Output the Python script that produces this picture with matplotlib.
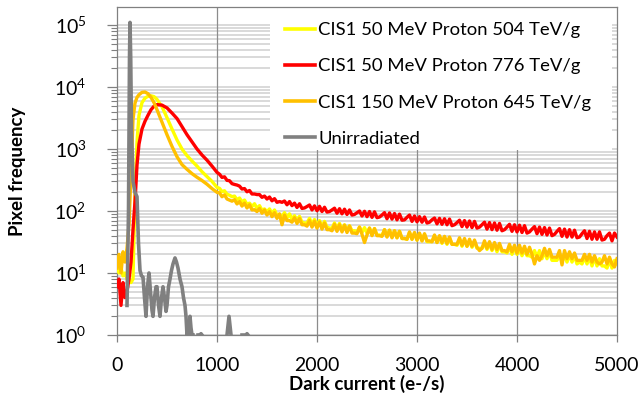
import numpy as np
import matplotlib
matplotlib.use("Agg")
import matplotlib.pyplot as plt
from matplotlib.ticker import LogLocator, FixedLocator, NullFormatter
from matplotlib.patches import Rectangle

plt.rcParams['font.family'] = ['Lato', 'DejaVu Sans']
plt.rcParams['mathtext.fontset'] = 'custom'
plt.rcParams['mathtext.rm'] = 'Lato'
plt.rcParams['mathtext.it'] = 'Lato'
plt.rcParams['mathtext.bf'] = 'Lato:bold'

# ---------------- data ----------------
labels = ["CIS1 50 MeV Proton 504 TeV/g", "CIS1 50 MeV Proton 776 TeV/g",
          "CIS1 150 MeV Proton 645 TeV/g", "Unirradiated"]
colors = ["#FFFF00", "#FF0000", "#FFC000", "#808080"]
x_ticks = [0, 1000, 2000, 3000, 4000, 5000]

x_head = [0, 20, 40, 60, 80, 100, 120, 140, 160, 180, 200, 220, 250, 280, 310, 340,
          370, 400, 450, 500, 550, 600, 650, 700, 750, 800, 850, 900, 950, 1000]
x_tail = list(range(1025, 5001, 25))

yellow_head = [15, 10, 12, 9, 10, 8, 8, 7, 8, 200, 1300, 3500, 5600, 6600, 7100, 7200,
               7000, 6300, 4800, 3200, 2100, 1400, 1000, 780, 640, 530, 430, 360, 300, 240]
red_head = [6, 8, 3, 7, 4, 5, 8, 15, 50, 140, 550, 1200, 2100, 2800, 3500, 4300,
            4900, 5200, 5100, 4600, 3800, 3100, 2300, 1700, 1300, 1000, 800, 660, 530, 420]
orange_head = [12, 20, 10, 22, 15, 25, 60, 400, 3000, 5500, 6800, 7500, 8200, 8300, 7800, 6800,
               5600, 4300, 2700, 1700, 1100, 750, 560, 470, 400, 350, 310, 270, 230, 200]

yellow_tail = [232, 205, 212, 186, 180, 170, 174, 152, 162, 140,
               150, 128, 134, 118, 131, 110, 122, 103, 108, 97,
               108, 91, 104, 86, 84, 82, 94, 77, 90, 74,
               84, 70, 82, 66, 64, 64, 76, 61, 73, 59,
               70, 56, 68, 55, 53, 53, 64, 52, 63, 50,
               60, 49, 58, 48, 48, 46, 55, 45, 54, 44,
               53, 42, 52, 41, 41, 40, 50, 39, 49, 38,
               48, 37, 47, 36, 36, 35, 45, 35, 44, 34,
               43, 33, 42, 32, 32, 32, 40, 31, 39, 30,
               38, 29, 37, 29, 29, 28, 35, 27, 34, 27,
               33, 26, 32, 25, 25, 25, 30, 24, 30, 23,
               29, 22, 28, 22, 22, 21, 27, 20, 26, 20,
               25, 19, 25, 19, 19, 18, 23, 18, 23, 17,
               22, 17, 22, 16, 16, 16, 21, 15, 20, 15,
               20, 15, 19, 14, 15, 14, 18, 14, 18, 13,
               18, 13, 17, 13, 13, 12, 16, 12, 16, 14]
red_tail = [392, 348, 356, 312, 308, 276, 268, 262, 252, 226,
            230, 204, 214, 188, 188, 184, 184, 166, 174, 156,
            168, 146, 158, 138, 142, 138, 145, 126, 142, 122,
            134, 114, 131, 110, 112, 118, 125, 104, 121, 101,
            119, 98, 115, 96, 98, 104, 111, 92, 109, 90,
            107, 88, 104, 86, 88, 94, 100, 83, 99, 81,
            98, 79, 97, 78, 80, 86, 94, 75, 93, 74,
            91, 72, 89, 71, 72, 79, 86, 68, 83, 67,
            81, 66, 80, 64, 66, 72, 77, 62, 76, 61,
            75, 60, 74, 58, 60, 65, 71, 56, 70, 55,
            69, 54, 68, 53, 55, 60, 66, 51, 65, 50,
            64, 49, 63, 48, 50, 55, 61, 47, 60, 46,
            59, 45, 58, 44, 46, 51, 56, 43, 55, 42,
            54, 41, 53, 40, 42, 47, 52, 39, 51, 38,
            50, 38, 49, 37, 38, 43, 48, 36, 47, 35,
            46, 35, 46, 34, 35, 40, 44, 33, 44, 38]
orange_tail = [196, 170, 182, 156, 150, 144, 152, 130, 142, 120,
               134, 112, 126, 104, 105, 98, 110, 92, 104, 86,
               98, 81, 94, 76, 90, 60, 86, 70, 70, 66,
               78, 63, 76, 60, 60, 57, 70, 55, 68, 53,
               66, 51, 64, 50, 50, 48, 61, 47, 60, 46,
               59, 45, 57, 44, 44, 43, 55, 42, 31, 41,
               53, 40, 52, 40, 40, 39, 50, 38, 49, 37,
               48, 37, 47, 36, 36, 35, 46, 35, 45, 34,
               44, 33, 43, 33, 33, 32, 41, 31, 40, 31,
               39, 30, 38, 29, 29, 29, 37, 28, 36, 27,
               35, 27, 34, 26, 23, 25, 33, 25, 32, 24,
               31, 24, 30, 23, 23, 22, 29, 22, 28, 21,
               28, 21, 27, 20, 26, 20, 14, 19, 16, 19,
               25, 19, 24, 18, 18, 18, 23, 13.5, 23, 17,
               22, 17, 21, 16, 16, 16, 20, 16, 20, 15,
               19, 15, 14, 15, 19, 14, 18, 14, 12.5, 17]

gray_x = [100, 115, 125, 130, 137, 145, 160, 180, 200, 215, 230, 245, 260, 275, 290, 305,
          320, 335, 350, 360, 375, 390, 400, 415, 430, 445, 460, 475, 490, 500, 515, 530,
          545, 560, 580, 595, 610, 630, 650, 665, 680, 690, 700, 710, 720, 730, 740, 750,
          760, 785, 810, 820, 830, 840, 850, 1000, 1100, 1120, 1140, 1200, 1250, 1260, 1275,
          1290, 1300, 1310]
gray_y = [3, 100, 30000, 110000, 30000, 2000, 300, 200, 170, 30, 11, 9, 8.6, 4, 2, 6,
          10, 5, 2.5, 2, 4, 6, 6, 3, 2, 4, 6, 4, 2.4, 3, 6, 8,
          11, 14, 17.5, 15, 12, 8, 6, 4, 3, 2, 1, 1.5, 1, 2, 1.3, 1,
          1, np.nan, 1, 1, 1, 1.05, 1, np.nan, 1, 2, 1, np.nan, 1, 1, np.nan,
          1, 1.05, 1]

x_irr = x_head + x_tail
series_y = [yellow_head + yellow_tail, red_head + red_tail, orange_head + orange_tail]

# ---------------- figure ----------------
fig = plt.figure(figsize=(6.42, 4.05), dpi=100)
W, H = 642, 405
ax = fig.add_axes([117 / W, 70 / H, 500 / W, 328 / H])

for ys, c, lab in zip(series_y, colors[:3], labels[:3]):
    ax.plot(x_irr, ys, color=c, lw=2.4, label=lab, zorder=3, solid_joinstyle='round')
ax.plot(gray_x, gray_y, color=colors[3], lw=2.6, label=labels[3], zorder=4,
        solid_joinstyle='round')

ax.set_yscale('log')
ax.set_xlim(0, 5000)
ax.set_ylim(1, 1.95e5)

ax.xaxis.set_major_locator(FixedLocator(x_ticks))
ax.yaxis.set_major_locator(LogLocator(base=10, numticks=10))
ax.yaxis.set_minor_locator(LogLocator(base=10, subs=np.arange(2, 10), numticks=20))
ax.yaxis.set_minor_formatter(NullFormatter())

ax.grid(True, which='both', axis='y', color='#d0d0d0', lw=1.1)
ax.set_axisbelow(True)
for xv in x_ticks[1:-1]:
    ax.axvline(xv, color='#8c8c8c', lw=0.9, zorder=1.2)

for s in ax.spines.values():
    s.set_color('#808080')
    s.set_linewidth(0.9)

ax.tick_params(axis='x', which='major', direction='out', length=5, width=0.9,
               color='#808080', labelsize=14, pad=11)
ax.tick_params(axis='y', which='major', direction='out', length=7, width=0.9,
               color='#808080', labelsize=14, pad=15)
ax.tick_params(axis='y', which='minor', direction='out', length=4, width=0.8,
               color='#808080')

ax.set_xlabel("Dark current (e-/s)", fontsize=13.5, fontweight='bold')
ax.xaxis.set_label_coords(0.5, (335 - 375) / 328)
ax.set_ylabel("Pixel frequency", fontsize=13.5, fontweight='bold')
ax.yaxis.set_label_coords((26 - 117) / 500, 0.5)

# white legend area
ax.add_patch(Rectangle(((270 - 117) / 500, (335 - 150) / 328), (612 - 270) / 500,
                       (150 - 7) / 328, transform=ax.transAxes, facecolor='white',
                       edgecolor='none', zorder=2))
leg = ax.legend(loc='upper left', bbox_to_anchor=((285 - 117) / 500, (335 - 22) / 328),
                frameon=False, fontsize=13.3, borderpad=0, borderaxespad=0,
                handlelength=1.6, handletextpad=0.2, labelspacing=1.1)
for h in leg.get_lines():
    h.set_linewidth(2.6)
leg.set_zorder(5)

fig.savefig("out.png", dpi=100)
